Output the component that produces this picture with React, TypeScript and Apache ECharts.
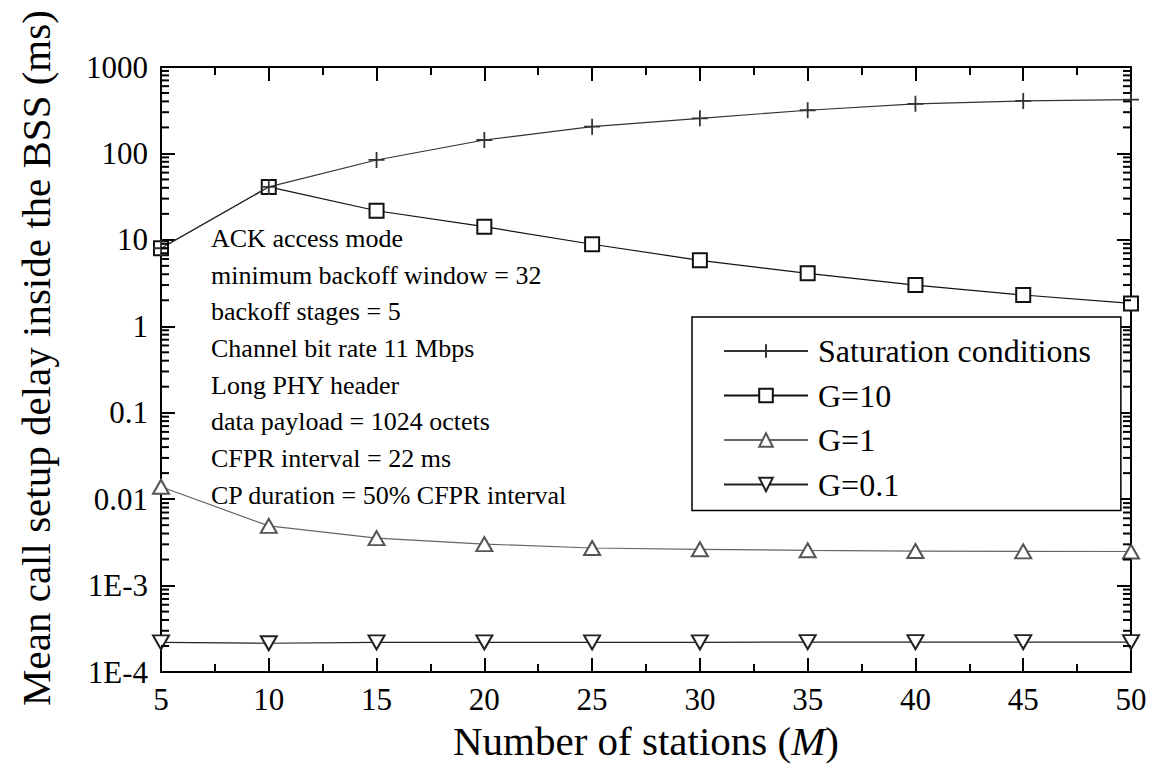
import React, { useEffect, useRef } from "react";
import * as echarts from "echarts";

const stations = [5, 10, 15, 20, 25, 30, 35, 40, 45, 50];
const saturation = [8, 41, 84, 143, 204, 255, 316, 375, 405, 420];
const g10 = [8, 41, 21.7, 14.2, 8.9, 5.8, 4.1, 3.0, 2.3, 1.84];
const g1 = [0.0139, 0.0049, 0.00354, 0.00302, 0.00272, 0.00263, 0.00256, 0.00251, 0.00249, 0.00248];
const g01 = [0.00022, 0.000215, 0.00022, 0.00022, 0.00022, 0.00022, 0.000222, 0.000222, 0.000222, 0.000222];
const seriesNames = ["Saturation conditions", "G=10", "G=1", "G=0.1"];
const yTitle = "Mean call setup delay inside the BSS (ms)";
const annotation = [
  "ACK access mode",
  "minimum backoff window = 32",
  "backoff stages = 5",
  "Channel bit rate 11 Mbps",
  "Long PHY header",
  "data payload = 1024 octets",
  "CFPR interval = 22 ms",
  "CP duration = 50% CFPR interval",
];
const decades = [-4, -3, -2, -1, 0, 1, 2];
const minorMultipliers = [2, 3, 4, 5, 6, 7, 8, 9];

const FONT = "'Liberation Serif', 'Times New Roman', serif";

function fmtLog(v: number) {
  const e = Math.round(Math.log10(v));
  if (e >= 0) return String(Math.pow(10, e));
  if (e >= -2) return Math.pow(10, e).toFixed(-e);
  return "1E" + e;
}

export default function App() {
  const ref = useRef<HTMLDivElement>(null);
  useEffect(() => {
    if (!ref.current) return;
    const chart = echarts.init(ref.current, null, { renderer: "svg" });
    const minorVals: number[][] = [];
    decades.forEach((d) => minorMultipliers.forEach((m) => minorVals.push([5, m * Math.pow(10, d)])));

    const mk = (arr: number[]) => stations.map((s, i) => [s, arr[i]]);
    const axisLineStyle = { color: "#000", width: 2 };

    const option: any = {
      animation: false,
      backgroundColor: "#fff",
      grid: { left: 161, right: 22, top: 67, bottom: 102, containLabel: false },
      xAxis: [
        {
          type: "value",
          min: 5,
          max: 50,
          interval: 5,
          position: "bottom",
          name: "Number of stations ({i|M})",
          nameLocation: "middle",
          nameGap: 48,
          nameTextStyle: {
            fontFamily: FONT,
            fontSize: 41,
            color: "#000",
            rich: { i: { fontFamily: FONT, fontSize: 41, fontStyle: "italic", color: "#000" } },
          },
          axisLine: { show: true, lineStyle: axisLineStyle },
          axisTick: { show: true, inside: true, length: 14, lineStyle: { color: "#000", width: 2 } },
          minorTick: { show: true, splitNumber: 2, length: 8, lineStyle: { color: "#000", width: 2 } },
          axisLabel: { fontFamily: FONT, fontSize: 31, color: "#000", margin: 12 },
          splitLine: { show: false },
        },
        {
          type: "value",
          min: 5,
          max: 50,
          interval: 5,
          position: "top",
          axisLine: { show: true, lineStyle: axisLineStyle },
          axisTick: { show: true, inside: true, length: 14, lineStyle: { color: "#000", width: 2 } },
          minorTick: { show: true, splitNumber: 2, length: 8, lineStyle: { color: "#000", width: 2 } },
          axisLabel: { show: false },
          splitLine: { show: false },
        },
      ],
      yAxis: [
        {
          type: "log",
          logBase: 10,
          min: 1e-4,
          max: 1000,
          splitNumber: 7,
          position: "left",
          axisLine: { show: true, lineStyle: axisLineStyle },
          axisTick: { show: true, inside: true, length: 14, lineStyle: { color: "#000", width: 2 } },
          axisLabel: { fontFamily: FONT, fontSize: 31, color: "#000", margin: 13, formatter: fmtLog },
          splitLine: { show: false },
        },
        {
          type: "log",
          logBase: 10,
          min: 1e-4,
          max: 1000,
          splitNumber: 7,
          position: "right",
          axisLine: { show: true, lineStyle: axisLineStyle },
          axisTick: { show: true, inside: true, length: 14, lineStyle: { color: "#000", width: 2 } },
          axisLabel: { show: false },
          splitLine: { show: false },
        },
      ],
      legend: {
        data: seriesNames,
        orient: "vertical",
        left: 692,
        top: 317,
        padding: [18, 30, 10, 31],
        itemWidth: 84,
        itemHeight: 17,
        itemGap: 12.5,
        borderColor: "#000",
        borderWidth: 1.5,
        backgroundColor: "#fff",
        textStyle: { fontFamily: FONT, fontSize: 32, color: "#000", lineHeight: 32, padding: [0, 0, 0, 5] },
      },
      graphic: [
        {
          type: "text",
          left: 211,
          top: 220,
          z: 10,
          style: {
            text: annotation.join("\n"),
            fontFamily: FONT,
            fontSize: 26,
            lineHeight: 36.7,
            fill: "#000",
          },
        },
        {
          type: "text",
          x: 36,
          y: 358,
          rotation: Math.PI / 2,
          z: 10,
          style: {
            text: yTitle,
            fontFamily: FONT,
            fontSize: 41,
            fill: "#000",
            align: "center",
            verticalAlign: "middle",
          },
        },
      ],
      series: [
        {
          name: "G=10",
          type: "line",
          data: mk(g10),
          symbol: "rect",
          symbolSize: 14,
          z: 3,
          lineStyle: { color: "#111", width: 1.2 },
          itemStyle: { color: "#fff", borderColor: "#111", borderWidth: 2 },
        },
        {
          name: "Saturation conditions",
          type: "line",
          data: mk(saturation),
          symbol: "path://M10,0 L10,20 M0,10 L20,10",
          symbolSize: 16,
          z: 4,
          lineStyle: { color: "#333", width: 1.2 },
          itemStyle: { color: "none", borderColor: "#333", borderWidth: 1.8 },
        },
        {
          name: "G=1",
          type: "line",
          data: mk(g1),
          symbol: "triangle",
          symbolSize: [16, 14],
          z: 3,
          lineStyle: { color: "#666", width: 1.2 },
          itemStyle: { color: "#fff", borderColor: "#555", borderWidth: 2 },
        },
        {
          name: "G=0.1",
          type: "line",
          data: mk(g01),
          symbol: "triangle",
          symbolRotate: 180,
          symbolSize: [16, 14],
          z: 3,
          lineStyle: { color: "#222", width: 1.2 },
          itemStyle: { color: "#fff", borderColor: "#222", borderWidth: 2 },
        },
        {
          type: "custom",
          silent: true,
          z: 5,
          data: minorVals,
          encode: { x: 0, y: 1 },
          renderItem: (params: any, api: any) => {
            const cs = params.coordSys;
            const y = api.coord([5, api.value(1)])[1];
            const style = { stroke: "#000", lineWidth: 2 };
            return {
              type: "group",
              children: [
                { type: "line", shape: { x1: cs.x, y1: y, x2: cs.x + 8, y2: y }, style },
                { type: "line", shape: { x1: cs.x + cs.width, y1: y, x2: cs.x + cs.width - 8, y2: y }, style },
              ],
            };
          },
        },
      ],
    };
    chart.setOption(option);
    return () => chart.dispose();
  }, []);
  return (
    <div
      ref={ref}
      style={{ position: "fixed", left: 0, top: 0, width: 1153, height: 774, background: "#fff" }}
    />
  );
}
